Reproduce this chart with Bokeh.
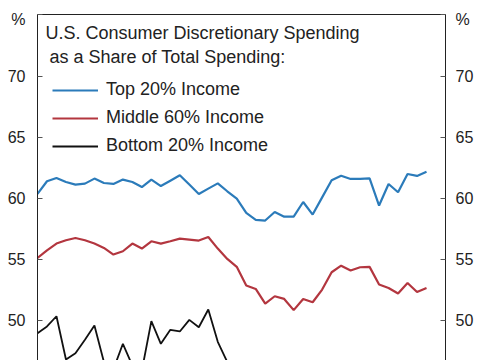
from bokeh.plotting import figure
from bokeh.models import (Range1d, LinearAxis, FixedTicker, Label, Legend, LegendItem)
from bokeh.embed import file_html
from bokeh.resources import INLINE

# ---- data ----
periods = list(range(42))
top20 = [60.38, 61.42, 61.69, 61.36, 61.15, 61.23, 61.64, 61.28, 61.20, 61.56,
         61.36, 60.95, 61.56, 61.03, 61.47, 61.91, 61.15, 60.38, 60.82, 61.25,
         60.60, 60.00, 58.82, 58.25, 58.20, 58.90, 58.52, 58.52, 59.72, 58.69,
         60.10, 61.50, 61.88, 61.61, 61.61, 61.66, 59.43, 61.20, 60.52, 62.02,
         61.86, 62.20]
mid60 = [55.13, 55.76, 56.31, 56.58, 56.77, 56.58, 56.31, 55.95, 55.41, 55.68,
         56.31, 55.90, 56.50, 56.31, 56.50, 56.72, 56.64, 56.56, 56.85, 55.90,
         55.05, 54.40, 52.87, 52.59, 51.39, 51.99, 51.77, 50.85, 51.77, 51.50,
         52.54, 53.96, 54.50, 54.10, 54.37, 54.40, 52.95, 52.67, 52.21, 53.08,
         52.34, 52.67]
bot20 = [48.96, 49.51, 50.35, 46.80, 47.32, 48.42, 49.59, 46.60, 46.00, 48.09,
         46.30, 45.90, 49.95, 48.09, 49.24, 49.10, 50.05, 49.45, 50.90, 48.25,
         46.60, 45.80, 45.20, 44.90, 44.30, 44.60, 44.10, 44.50, 43.90, 44.20,
         45.00, 45.60, 45.90, 45.40, 45.70, 45.10, 44.80, 45.30, 44.90, 45.20,
         45.00, 45.40]
series_names = ["Top 20% Income", "Middle 60% Income", "Bottom 20% Income"]
y_ticks = [50, 55, 60, 65, 70]
unit_label = "%"
title_lines = ["U.S. Consumer Discretionary Spending", "as a Share of Total Spending:"]

FONT = "Liberation Sans"
BLUE = "#2b7bba"
RED = "#b3363f"
BLACK = "#111111"
TXT = "#222222"

Y0, Y1 = 46.72, 75.1
X0, X1 = 0, 43
UNIT_TICK = Y1 - 0.001   # unit label sits at the top corner of the frame

p = figure(width=485, height=360, output_backend="svg", toolbar_location=None,
           x_range=Range1d(X0, X1), y_range=Range1d(Y0, Y1),
           x_axis_location=None, y_axis_location=None,
           min_border_left=37, min_border_right=40, min_border_top=14, min_border_bottom=0)
p.outline_line_color = None
p.grid.visible = False
p.background_fill_color = "white"
p.border_fill_color = "white"

def make_axis(standoff):
    ax = LinearAxis(ticker=FixedTicker(ticks=y_ticks + [UNIT_TICK]))
    ax.major_label_overrides = {UNIT_TICK: "\n" + unit_label}
    ax.axis_line_color = TXT
    ax.axis_line_width = 1
    ax.major_tick_in = 5
    ax.major_tick_out = 0
    ax.major_tick_line_color = "#555555"
    ax.minor_tick_line_color = None
    ax.major_label_text_font = FONT
    ax.major_label_text_font_size = "16px"
    ax.major_label_text_line_height = 0.56
    ax.major_label_text_color = TXT
    ax.major_label_standoff = standoff
    return ax

p.add_layout(make_axis(12), "left")
p.add_layout(make_axis(10), "right")

top_axis = LinearAxis(ticker=FixedTicker(ticks=[]))
top_axis.axis_line_color = TXT
top_axis.major_tick_line_color = None
top_axis.minor_tick_line_color = None
top_axis.major_label_text_font_size = "0px"
p.add_layout(top_axis, "above")

r1 = p.line(periods, top20, line_color=BLUE, line_width=2.2)
r2 = p.line(periods, mid60, line_color=RED, line_width=2.2)
r3 = p.line(periods, bot20, line_color=BLACK, line_width=1.8)

legend = Legend(items=[LegendItem(label=series_names[0], renderers=[r1]),
                       LegendItem(label=series_names[1], renderers=[r2]),
                       LegendItem(label=series_names[2], renderers=[r3])],
                location=(15, 204), padding=0, margin=0, spacing=7,
                glyph_width=46, glyph_height=20, label_height=20, label_standoff=8,
                label_text_font=FONT, label_text_font_size="18px", label_text_color=TXT,
                border_line_color=None, background_fill_alpha=0)
p.add_layout(legend, "center")

p.add_layout(Label(x=0.84, y=73.62, text=title_lines[0], text_font=FONT,
                   text_font_size="18px", text_color=TXT, text_baseline="alphabetic"))
p.add_layout(Label(x=1.26, y=71.58, text=title_lines[1], text_font=FONT,
                   text_font_size="18px", text_color=TXT, text_baseline="alphabetic"))

open("out.html", "w").write(file_html(p, INLINE))
